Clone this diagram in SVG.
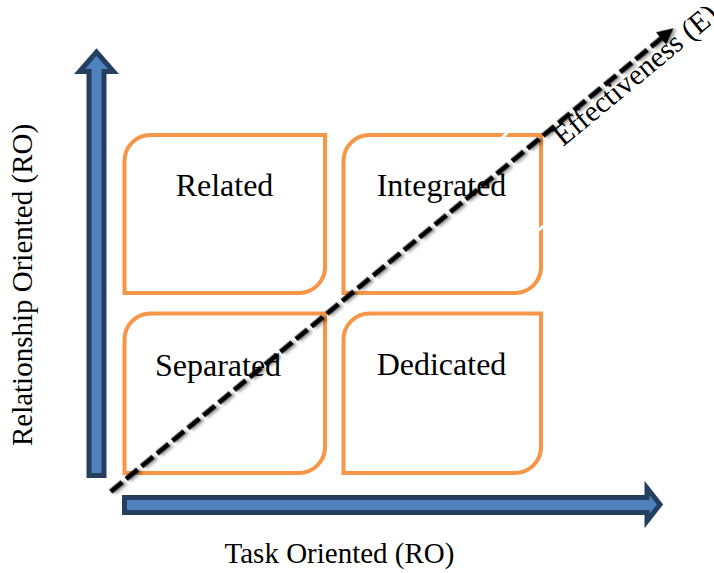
<svg xmlns="http://www.w3.org/2000/svg" width="714" height="573" viewBox="0 0 714 573">
  <style>
    .box { fill: #FFFFFF; stroke: #F79646; stroke-width: 4; }
    .axis { fill: #4F81BD; stroke: #243F60; stroke-width: 5; stroke-linejoin: miter; stroke-miterlimit: 10; }
    .lbl { font-family: "Liberation Serif", "Times New Roman", serif; font-size: 32px; fill: #000; text-anchor: middle; }
    .axlbl { font-family: "Liberation Serif", "Times New Roman", serif; font-size: 29px; fill: #000; text-anchor: middle; }
    .eff { font-family: "Liberation Serif", "Times New Roman", serif; font-size: 29.5px; fill: #000; }
    .gap { stroke: #FFFFFF; stroke-width: 3; }
  </style>
  <defs>
    <filter id="shadow" x="-10%" y="-10%" width="120%" height="120%">
      <feDropShadow dx="2" dy="2.5" stdDeviation="1.5" flood-color="#000" flood-opacity="0.4"/>
    </filter>
  </defs>
  <rect width="714" height="573" fill="#FFFFFF"/>

  <g id="axis-vertical">
    <polygon class="axis" points="89,475.5 89,71.5 79.5,71.5 96.5,52 113.5,71.5 104,71.5 104,475.5"/>
  </g>
  <g id="axis-horizontal">
    <polygon class="axis" points="124.5,497.5 647,497.5 647,488 660,504.5 647,521 647,512.5 124.5,512.5"/>
  </g>

  <g id="node-related">
    <path class="box" d="M150.5,135 H325 V267 A26,26 0 0 1 299,293 H124.5 V161 A26,26 0 0 1 150.5,135 Z"/>
    <text class="lbl" x="224.5" y="196">Related</text>
  </g>
  <g id="node-integrated">
    <path class="box" d="M369.5,135 H541 V267 A26,26 0 0 1 515,293 H343.5 V161 A26,26 0 0 1 369.5,135 Z"/>
    <text class="lbl" x="441.5" y="196">Integrated</text>
  </g>
  <g id="node-separated">
    <path class="box" d="M150.5,313.5 H325 V447 A26,26 0 0 1 299,473 H124.5 V339.5 A26,26 0 0 1 150.5,313.5 Z"/>
    <text class="lbl" x="218" y="376">Separated</text>
  </g>
  <g id="node-dedicated">
    <path class="box" d="M369.5,313.5 H541 V447 A26,26 0 0 1 515,473 H343.5 V339.5 A26,26 0 0 1 369.5,313.5 Z"/>
    <text class="lbl" x="441.5" y="375">Dedicated</text>
  </g>

  <line class="gap" x1="502" y1="138" x2="509" y2="131"/>
  <line class="gap" x1="537" y1="231" x2="545" y2="225"/>

  <g id="connectors">
    <g transform="translate(110.7,491.7) rotate(-39.47)" filter="url(#shadow)">
      <line x1="0" y1="0" x2="714" y2="0" stroke="#000" stroke-width="5" stroke-dasharray="15 5"/>
      <polygon points="713,-8 729,0 713,8" fill="#000"/>
    </g>
  </g>

  <g id="labels">
    <text class="axlbl" transform="translate(32,285) rotate(-90)">Relationship Oriented (RO)</text>
    <text class="axlbl" x="339.5" y="563">Task Oriented (RO)</text>
    <text class="eff" transform="translate(563,147) rotate(-39.5)">Effectiveness (E)</text>
  </g>
</svg>
